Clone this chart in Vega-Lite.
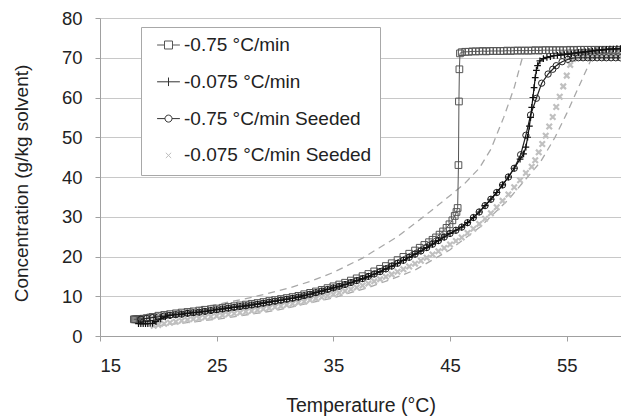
{
  "$schema": "https://vega.github.io/schema/vega-lite/v6.json",
  "autosize": {"type": "none"},
  "width": 521,
  "height": 318,
  "padding": {"left": 100, "top": 18, "right": 0, "bottom": 81},
  "background": "white",
  "config": {
    "font": "Liberation Sans",
    "view": {"stroke": null},
    "axis": {"labelFont": "Liberation Sans", "titleFont": "Liberation Sans", "labelColor": "#222", "titleColor": "#222", "titleFontWeight": "normal", "domainColor": "#a0a0a0", "tickColor": "#a0a0a0", "gridColor": "#c8c8c8", "tickSize": 5}
  },
  "data": {"values": [
    {"s":"a","T":17.9,"C":4.2},{"s":"a","T":18.0,"C":4.2},{"s":"a","T":18.1,"C":4.2},{"s":"a","T":18.2,"C":4.2},{"s":"a","T":18.3,"C":4.25},{"s":"a","T":18.4,"C":4.25},{"s":"a","T":18.5,"C":4.3},{"s":"a","T":18.7,"C":4.35},{"s":"a","T":19,"C":4.5},{"s":"a","T":19.3,"C":4.65},{"s":"a","T":19.5,"C":4.8},{"s":"a","T":20,"C":5.1},{"s":"a","T":20.5,"C":5.3},{"s":"a","T":21,"C":5.5},{"s":"a","T":21.5,"C":5.7},{"s":"a","T":22,"C":5.9},{"s":"a","T":22.5,"C":6.05},{"s":"a","T":23,"C":6.2},{"s":"a","T":23.5,"C":6.4},{"s":"a","T":24,"C":6.6},{"s":"a","T":24.5,"C":6.75},{"s":"a","T":25,"C":6.9},{"s":"a","T":25.5,"C":7.1},{"s":"a","T":26,"C":7.3},{"s":"a","T":26.5,"C":7.5},{"s":"a","T":27,"C":7.7},{"s":"a","T":27.5,"C":7.9},{"s":"a","T":28,"C":8.1},{"s":"a","T":28.5,"C":8.3},{"s":"a","T":29,"C":8.55},{"s":"a","T":29.5,"C":8.8},{"s":"a","T":30,"C":9.05},{"s":"a","T":30.5,"C":9.3},{"s":"a","T":31,"C":9.55},{"s":"a","T":31.5,"C":9.8},{"s":"a","T":32,"C":10.1},{"s":"a","T":32.5,"C":10.5},{"s":"a","T":33,"C":10.85},{"s":"a","T":33.5,"C":11.2},{"s":"a","T":34,"C":11.6},{"s":"a","T":34.5,"C":12.05},{"s":"a","T":35,"C":12.5},{"s":"a","T":35.5,"C":12.95},{"s":"a","T":36,"C":13.4},{"s":"a","T":36.5,"C":13.95},{"s":"a","T":37,"C":14.5},{"s":"a","T":37.5,"C":15.05},{"s":"a","T":38,"C":15.6},{"s":"a","T":38.5,"C":16.25},{"s":"a","T":39,"C":16.9},{"s":"a","T":39.5,"C":17.6},{"s":"a","T":40,"C":18.3},{"s":"a","T":40.5,"C":19.1},{"s":"a","T":41,"C":19.9},{"s":"a","T":41.5,"C":20.7},{"s":"a","T":42,"C":21.5},{"s":"a","T":42.4,"C":22.2},{"s":"a","T":42.8,"C":22.9},{"s":"a","T":43.2,"C":23.6},{"s":"a","T":43.5,"C":24.2},{"s":"a","T":43.8,"C":24.8},{"s":"a","T":44.1,"C":25.5},{"s":"a","T":44.4,"C":26.3},{"s":"a","T":44.7,"C":27.2},{"s":"a","T":44.95,"C":28.1},{"s":"a","T":45.2,"C":29.1},{"s":"a","T":45.4,"C":30.2},{"s":"a","T":45.55,"C":31.2},{"s":"a","T":45.65,"C":32.2},{"s":"a","T":45.72,"C":43},{"s":"a","T":45.76,"C":59},{"s":"a","T":45.8,"C":67.1},{"s":"a","T":45.85,"C":71.1},{"s":"a","T":46,"C":71.4},{"s":"a","T":46.3,"C":71.5},{"s":"a","T":46.6,"C":71.5},{"s":"a","T":46.9,"C":71.6},{"s":"a","T":47.2,"C":71.6},{"s":"a","T":47.5,"C":71.6},{"s":"a","T":47.8,"C":71.7},{"s":"a","T":48.1,"C":71.6},{"s":"a","T":48.4,"C":71.7},{"s":"a","T":48.7,"C":71.7},{"s":"a","T":49.0,"C":71.7},{"s":"a","T":49.3,"C":71.7},{"s":"a","T":49.6,"C":71.7},{"s":"a","T":49.9,"C":71.8},{"s":"a","T":50.2,"C":71.7},{"s":"a","T":50.5,"C":71.8},{"s":"a","T":50.8,"C":71.8},{"s":"a","T":51.1,"C":71.8},{"s":"a","T":51.4,"C":71.8},{"s":"a","T":51.7,"C":71.8},{"s":"a","T":52.0,"C":71.8},{"s":"a","T":52.3,"C":71.9},{"s":"a","T":52.6,"C":71.8},{"s":"a","T":52.9,"C":71.9},{"s":"a","T":53.2,"C":71.9},{"s":"a","T":53.5,"C":71.9},{"s":"a","T":53.8,"C":71.9},{"s":"a","T":54.1,"C":71.9},{"s":"a","T":54.4,"C":71.9},{"s":"a","T":54.7,"C":71.9},{"s":"a","T":55.0,"C":71.9},{"s":"a","T":55.3,"C":72.0},{"s":"a","T":55.6,"C":71.9},{"s":"a","T":55.9,"C":72.0},{"s":"a","T":56.2,"C":72.0},{"s":"a","T":56.5,"C":72.0},{"s":"a","T":56.8,"C":72.0},{"s":"a","T":57.1,"C":72.0},{"s":"a","T":57.4,"C":72.0},{"s":"a","T":57.7,"C":72.0},{"s":"a","T":58.0,"C":72.0},{"s":"a","T":58.3,"C":72.0},{"s":"a","T":58.6,"C":72.0},{"s":"a","T":58.9,"C":72.0},{"s":"a","T":59.2,"C":72.0},{"s":"a","T":59.5,"C":72.0},
    {"s":"b","T":18.3,"C":3.1},{"s":"b","T":18.5,"C":3.1},{"s":"b","T":18.7,"C":3.1},{"s":"b","T":18.9,"C":3.1},{"s":"b","T":19.1,"C":3.1},{"s":"b","T":19.3,"C":3.15},{"s":"b","T":19.5,"C":3.2},{"s":"b","T":19.8,"C":3.6},{"s":"b","T":20.2,"C":4.3},{"s":"b","T":20.6,"C":4.8},{"s":"b","T":21,"C":5.2},{"s":"b","T":21.5,"C":5.35},{"s":"b","T":22,"C":5.5},{"s":"b","T":22.5,"C":5.7},{"s":"b","T":23,"C":5.85},{"s":"b","T":23.5,"C":6.0},{"s":"b","T":24,"C":6.2},{"s":"b","T":24.5,"C":6.4},{"s":"b","T":25,"C":6.6},{"s":"b","T":25.5,"C":6.8},{"s":"b","T":26,"C":7.0},{"s":"b","T":26.5,"C":7.2},{"s":"b","T":27,"C":7.4},{"s":"b","T":27.5,"C":7.6},{"s":"b","T":28,"C":7.8},{"s":"b","T":28.5,"C":8.0},{"s":"b","T":29,"C":8.25},{"s":"b","T":29.5,"C":8.5},{"s":"b","T":30,"C":8.75},{"s":"b","T":30.5,"C":9.0},{"s":"b","T":31,"C":9.25},{"s":"b","T":31.5,"C":9.5},{"s":"b","T":32,"C":9.8},{"s":"b","T":32.5,"C":10.15},{"s":"b","T":33,"C":10.5},{"s":"b","T":33.5,"C":10.9},{"s":"b","T":34,"C":11.3},{"s":"b","T":34.5,"C":11.7},{"s":"b","T":35,"C":12.1},{"s":"b","T":35.5,"C":12.5},{"s":"b","T":36,"C":12.95},{"s":"b","T":36.5,"C":13.45},{"s":"b","T":37,"C":13.95},{"s":"b","T":37.5,"C":14.45},{"s":"b","T":38,"C":15.0},{"s":"b","T":38.5,"C":15.6},{"s":"b","T":39,"C":16.2},{"s":"b","T":39.5,"C":16.9},{"s":"b","T":40,"C":17.6},{"s":"b","T":40.5,"C":18.3},{"s":"b","T":41,"C":19.05},{"s":"b","T":41.5,"C":19.8},{"s":"b","T":42,"C":20.6},{"s":"b","T":42.5,"C":21.4},{"s":"b","T":43,"C":22.25},{"s":"b","T":43.5,"C":23.1},{"s":"b","T":44,"C":24.0},{"s":"b","T":44.5,"C":24.9},{"s":"b","T":45,"C":25.8},{"s":"b","T":45.5,"C":26.6},{"s":"b","T":46,"C":27.4},{"s":"b","T":46.5,"C":28.5},{"s":"b","T":47,"C":29.8},{"s":"b","T":47.5,"C":31.2},{"s":"b","T":48,"C":32.8},{"s":"b","T":48.5,"C":34.4},{"s":"b","T":49,"C":36.1},{"s":"b","T":49.5,"C":38.0},{"s":"b","T":50,"C":40.0},{"s":"b","T":50.5,"C":42.2},{"s":"b","T":51,"C":44.5},{"s":"b","T":51.3,"C":45.8},{"s":"b","T":51.5,"C":47.5},{"s":"b","T":51.65,"C":50},{"s":"b","T":51.8,"C":52.8},{"s":"b","T":51.9,"C":55},{"s":"b","T":52.0,"C":57.5},{"s":"b","T":52.1,"C":60},{"s":"b","T":52.2,"C":62.5},{"s":"b","T":52.3,"C":65},{"s":"b","T":52.4,"C":66.8},{"s":"b","T":52.5,"C":68.0},{"s":"b","T":52.7,"C":69.2},{"s":"b","T":53.0,"C":69.8},{"s":"b","T":53.3,"C":70.1},{"s":"b","T":53.6,"C":70.3},{"s":"b","T":53.9,"C":70.5},{"s":"b","T":54.2,"C":70.6},{"s":"b","T":54.5,"C":70.7},{"s":"b","T":54.8,"C":70.8},{"s":"b","T":55.1,"C":70.9},{"s":"b","T":55.4,"C":71.0},{"s":"b","T":55.7,"C":71.2},{"s":"b","T":56.0,"C":71.3},{"s":"b","T":56.3,"C":71.4},{"s":"b","T":56.6,"C":71.5},{"s":"b","T":56.9,"C":71.6},{"s":"b","T":57.2,"C":71.7},{"s":"b","T":57.5,"C":71.8},{"s":"b","T":57.8,"C":71.9},{"s":"b","T":58.1,"C":72.0},{"s":"b","T":58.4,"C":72.1},{"s":"b","T":58.7,"C":72.2},{"s":"b","T":59.0,"C":72.2},{"s":"b","T":59.3,"C":72.3},{"s":"b","T":59.6,"C":72.3},
    {"s":"c","T":18.5,"C":4.2},{"s":"c","T":19,"C":4.4},{"s":"c","T":19.5,"C":4.6},{"s":"c","T":20,"C":4.8},{"s":"c","T":20.5,"C":5.0},{"s":"c","T":21,"C":5.2},{"s":"c","T":21.5,"C":5.35},{"s":"c","T":22,"C":5.5},{"s":"c","T":22.5,"C":5.7},{"s":"c","T":23,"C":5.85},{"s":"c","T":23.5,"C":6.0},{"s":"c","T":24,"C":6.2},{"s":"c","T":24.5,"C":6.4},{"s":"c","T":25,"C":6.6},{"s":"c","T":25.5,"C":6.8},{"s":"c","T":26,"C":7.0},{"s":"c","T":26.5,"C":7.2},{"s":"c","T":27,"C":7.4},{"s":"c","T":27.5,"C":7.6},{"s":"c","T":28,"C":7.8},{"s":"c","T":28.5,"C":8.0},{"s":"c","T":29,"C":8.25},{"s":"c","T":29.5,"C":8.5},{"s":"c","T":30,"C":8.75},{"s":"c","T":30.5,"C":9.0},{"s":"c","T":31,"C":9.25},{"s":"c","T":31.5,"C":9.5},{"s":"c","T":32,"C":9.8},{"s":"c","T":32.5,"C":10.15},{"s":"c","T":33,"C":10.5},{"s":"c","T":33.5,"C":10.9},{"s":"c","T":34,"C":11.3},{"s":"c","T":34.5,"C":11.7},{"s":"c","T":35,"C":12.1},{"s":"c","T":35.5,"C":12.5},{"s":"c","T":36,"C":12.95},{"s":"c","T":36.5,"C":13.45},{"s":"c","T":37,"C":13.95},{"s":"c","T":37.5,"C":14.45},{"s":"c","T":38,"C":15.0},{"s":"c","T":38.5,"C":15.6},{"s":"c","T":39,"C":16.2},{"s":"c","T":39.5,"C":16.9},{"s":"c","T":40,"C":17.6},{"s":"c","T":40.5,"C":18.3},{"s":"c","T":41,"C":19.05},{"s":"c","T":41.5,"C":19.8},{"s":"c","T":42,"C":20.6},{"s":"c","T":42.5,"C":21.4},{"s":"c","T":43,"C":22.25},{"s":"c","T":43.5,"C":23.1},{"s":"c","T":44,"C":24.0},{"s":"c","T":44.5,"C":24.9},{"s":"c","T":45,"C":25.8},{"s":"c","T":45.5,"C":26.6},{"s":"c","T":46,"C":27.4},{"s":"c","T":46.5,"C":28.5},{"s":"c","T":47,"C":29.8},{"s":"c","T":47.5,"C":31.2},{"s":"c","T":48,"C":32.8},{"s":"c","T":48.5,"C":34.4},{"s":"c","T":49,"C":36.1},{"s":"c","T":49.5,"C":38.0},{"s":"c","T":50,"C":40.0},{"s":"c","T":50.5,"C":42.2},{"s":"c","T":51.05,"C":45.6},{"s":"c","T":51.5,"C":50.5},{"s":"c","T":51.9,"C":55.6},{"s":"c","T":52.4,"C":59.8},{"s":"c","T":52.85,"C":63.6},{"s":"c","T":53.4,"C":65.9},{"s":"c","T":53.8,"C":67.1},{"s":"c","T":54.1,"C":68.0},{"s":"c","T":54.6,"C":69.0},{"s":"c","T":55.1,"C":69.6},{"s":"c","T":55.5,"C":69.9},{"s":"c","T":56,"C":70.0},{"s":"c","T":56.4,"C":70.0},{"s":"c","T":56.8,"C":70.0},{"s":"c","T":57.2,"C":70.0},{"s":"c","T":57.6,"C":70.0},{"s":"c","T":58,"C":70.0},{"s":"c","T":58.4,"C":70.0},{"s":"c","T":58.8,"C":70.0},{"s":"c","T":59.2,"C":70.0},{"s":"c","T":59.6,"C":70.0},
    {"s":"d","T":19.6,"C":2.6},{"s":"d","T":20,"C":2.8},{"s":"d","T":20.5,"C":3.1},{"s":"d","T":21,"C":3.35},{"s":"d","T":21.5,"C":3.6},{"s":"d","T":22,"C":3.85},{"s":"d","T":22.5,"C":4.05},{"s":"d","T":23,"C":4.25},{"s":"d","T":23.5,"C":4.45},{"s":"d","T":24,"C":4.65},{"s":"d","T":24.5,"C":4.85},{"s":"d","T":25,"C":5.05},{"s":"d","T":25.5,"C":5.25},{"s":"d","T":26,"C":5.45},{"s":"d","T":26.5,"C":5.65},{"s":"d","T":27,"C":5.85},{"s":"d","T":27.5,"C":6.1},{"s":"d","T":28,"C":6.3},{"s":"d","T":28.5,"C":6.55},{"s":"d","T":29,"C":6.8},{"s":"d","T":29.5,"C":7.05},{"s":"d","T":30,"C":7.3},{"s":"d","T":30.5,"C":7.55},{"s":"d","T":31,"C":7.8},{"s":"d","T":31.5,"C":8.1},{"s":"d","T":32,"C":8.4},{"s":"d","T":32.5,"C":8.7},{"s":"d","T":33,"C":9.05},{"s":"d","T":33.5,"C":9.4},{"s":"d","T":34,"C":9.75},{"s":"d","T":34.5,"C":10.1},{"s":"d","T":35,"C":10.5},{"s":"d","T":35.5,"C":10.9},{"s":"d","T":36,"C":11.3},{"s":"d","T":36.5,"C":11.75},{"s":"d","T":37,"C":12.2},{"s":"d","T":37.5,"C":12.7},{"s":"d","T":38,"C":13.2},{"s":"d","T":38.5,"C":13.75},{"s":"d","T":39,"C":14.3},{"s":"d","T":39.5,"C":14.9},{"s":"d","T":40,"C":15.5},{"s":"d","T":40.5,"C":16.15},{"s":"d","T":41,"C":16.8},{"s":"d","T":41.5,"C":17.5},{"s":"d","T":42,"C":18.2},{"s":"d","T":42.5,"C":18.95},{"s":"d","T":43,"C":19.7},{"s":"d","T":43.5,"C":20.5},{"s":"d","T":44,"C":21.3},{"s":"d","T":44.5,"C":22.15},{"s":"d","T":45,"C":23.0},{"s":"d","T":45.5,"C":23.9},{"s":"d","T":46,"C":24.8},{"s":"d","T":46.5,"C":25.9},{"s":"d","T":47,"C":27.0},{"s":"d","T":47.5,"C":28.2},{"s":"d","T":48,"C":29.5},{"s":"d","T":48.5,"C":30.9},{"s":"d","T":49,"C":32.4},{"s":"d","T":49.5,"C":34.0},{"s":"d","T":50,"C":35.6},{"s":"d","T":50.5,"C":37.4},{"s":"d","T":51,"C":39.2},{"s":"d","T":51.5,"C":41.0},{"s":"d","T":52,"C":42.6},{"s":"d","T":52.3,"C":44.2},{"s":"d","T":52.6,"C":46.2},{"s":"d","T":52.9,"C":48.3},{"s":"d","T":53.2,"C":50.4},{"s":"d","T":53.5,"C":52.7},{"s":"d","T":53.8,"C":55.1},{"s":"d","T":54.1,"C":57.6},{"s":"d","T":54.4,"C":60.2},{"s":"d","T":54.7,"C":62.8},{"s":"d","T":55.0,"C":65.5},{"s":"d","T":55.3,"C":68.2},{"s":"d","T":55.55,"C":69.7},{"s":"d","T":55.8,"C":70.1},{"s":"d","T":56.1,"C":70.1},{"s":"d","T":56.4,"C":70.2},{"s":"d","T":56.7,"C":70.2},{"s":"d","T":57.0,"C":70.2},{"s":"d","T":57.3,"C":70.3},{"s":"d","T":57.6,"C":70.3},{"s":"d","T":57.9,"C":70.3},{"s":"d","T":58.2,"C":70.3},{"s":"d","T":58.5,"C":70.3},{"s":"d","T":58.8,"C":70.4},{"s":"d","T":59.1,"C":70.4},{"s":"d","T":59.4,"C":70.4},{"s":"d","T":59.7,"C":70.4},
    {"s":"u","T":19.3,"C":5.3},{"s":"u","T":22,"C":6.5},{"s":"u","T":25,"C":7.9},{"s":"u","T":28,"C":9.7},{"s":"u","T":31,"C":11.9},{"s":"u","T":33,"C":13.7},{"s":"u","T":35,"C":16.0},{"s":"u","T":37.5,"C":19.6},{"s":"u","T":40.5,"C":25.0},{"s":"u","T":43.3,"C":31.3},{"s":"u","T":46.2,"C":38.2},{"s":"u","T":47.5,"C":42.2},{"s":"u","T":48.5,"C":47.0},{"s":"u","T":49.6,"C":55.0},{"s":"u","T":50.5,"C":62.5},{"s":"u","T":51.1,"C":69.0},{"s":"u","T":51.4,"C":72.0},
    {"s":"l","T":20,"C":2.6},{"s":"l","T":25,"C":4.2},{"s":"l","T":30,"C":6.4},{"s":"l","T":35,"C":9.6},{"s":"l","T":38,"C":12.2},{"s":"l","T":40,"C":14.3},{"s":"l","T":42,"C":16.6},{"s":"l","T":45,"C":21.7},{"s":"l","T":47.6,"C":27.5},{"s":"l","T":50,"C":34.3},{"s":"l","T":51.5,"C":39.5},{"s":"l","T":52.75,"C":43.8},{"s":"l","T":54,"C":50.0},{"s":"l","T":55,"C":56.0},{"s":"l","T":56,"C":62.5},{"s":"l","T":57,"C":69.0},{"s":"l","T":57.4,"C":71.0}
  ]},
  "encoding": {
    "x": {"field": "T", "type": "quantitative", "scale": {"domain": [15, 59.65], "nice": false, "zero": false},
      "axis": {"values": [15, 25, 35, 45, 55], "title": "Temperature (°C)", "grid": false, "labelFontSize": 18.5, "labelPadding": 30, "labelBaseline": "alphabetic", "titleFontSize": 19.5, "titleBaseline": "alphabetic", "titleY": 75}},
    "y": {"field": "C", "type": "quantitative", "scale": {"domain": [0, 80], "nice": false},
      "axis": {"values": [0, 10, 20, 30, 40, 50, 60, 70, 80], "title": "Concentration (g/kg solvent)", "grid": true, "labelFontSize": 18.5, "labelPadding": 13, "titleFontSize": 19, "titleBaseline": "alphabetic", "titleX": -73, "titleY": 165, "titleAngle": -90}}
  },
  "layer": [
    {"transform": [{"filter": "datum.s == 'u'"}], "mark": {"type": "line", "stroke": "#a8a8a8", "strokeWidth": 1.3, "strokeDash": [7, 5], "clip": true}},
    {"transform": [{"filter": "datum.s == 'l'"}], "mark": {"type": "line", "stroke": "#a8a8a8", "strokeWidth": 1.3, "strokeDash": [7, 5], "clip": true}},
    {"transform": [{"filter": "datum.s == 'd'"}], "mark": {"type": "point", "shape": "M-1,-1L1,1M-1,1L1,-1", "size": 30, "filled": false, "stroke": "#c0c0c0", "strokeWidth": 2.2, "opacity": 1, "clip": true}},
    {"transform": [{"filter": "datum.s == 'a'"}], "mark": {"type": "line", "stroke": "#555", "strokeWidth": 1, "clip": true, "point": {"shape": "square", "filled": false, "size": 45, "stroke": "#555", "strokeWidth": 1, "fill": "transparent", "opacity": 1}}},
    {"transform": [{"filter": "datum.s == 'c'"}], "mark": {"type": "line", "stroke": "#222", "strokeWidth": 1.2, "clip": true, "point": {"shape": "circle", "filled": false, "size": 40, "stroke": "#222", "strokeWidth": 1, "fill": "transparent", "opacity": 1}}},
    {"transform": [{"filter": "datum.s == 'b'"}], "mark": {"type": "line", "stroke": "#111", "strokeWidth": 1.2, "clip": true, "point": {"shape": "M-1,0H1M0,-1V1", "filled": false, "size": 45, "stroke": "#111", "strokeWidth": 1.2, "opacity": 1}}},
    {"transform": [{"filter": "indexof(['a','b','c','d'], datum.s) >= 0"}, {"aggregate": [{"op": "max", "field": "T", "as": "T"}, {"op": "max", "field": "C", "as": "C"}], "groupby": ["s"]}],
     "mark": {"type": "point", "filled": false, "opacity": 0, "strokeWidth": 1},
     "encoding": {
       "color": {"field": "s", "type": "nominal", "scale": {"domain": ["a", "b", "c", "d"], "range": ["#555555", "#333333", "#333333", "#bdbdbd"]},
         "legend": {"orient": "none", "legendX": 41, "legendY": 9, "title": null, "fillColor": "white", "strokeColor": "#a8a8a8", "padding": 8, "symbolSize": 361, "symbolStrokeWidth": 1, "symbolOpacity": 1, "symbolFillColor": "transparent", "labelFont": "Liberation Sans", "labelFontSize": 19, "labelColor": "#222", "labelLimit": 400, "rowPadding": 12.8, "labelOffset": 15,
           "labelExpr": "{'a': '-0.75 °C/min', 'b': '-0.075 °C/min', 'c': '-0.75 °C/min Seeded', 'd': '-0.075 °C/min Seeded'}[datum.label]",
           "encode": {"symbols": {"update": {"opacity": {"value": 1}}}}}},
       "shape": {"field": "s", "type": "nominal", "scale": {"domain": ["a", "b", "c", "d"], "range": [
         "M-1,-1M-1,1M-0.2,0H0.58M1.42,0H2.2M0.58,-0.42H1.42V0.42H0.58Z",
         "M-1,-1M-1,1M-0.2,0H2.2M1,-0.45V0.45",
         "M-1,-1M-1,1M-0.2,0H0.63M1.37,0H2.2M0.63,0A0.37,0.37 0 1,0 1.37,0A0.37,0.37 0 1,0 0.63,0",
         "M-1,-1M-1,1M0.72,-0.28L1.28,0.28M0.72,0.28L1.28,-0.28"]}}
     }}
  ]
}
